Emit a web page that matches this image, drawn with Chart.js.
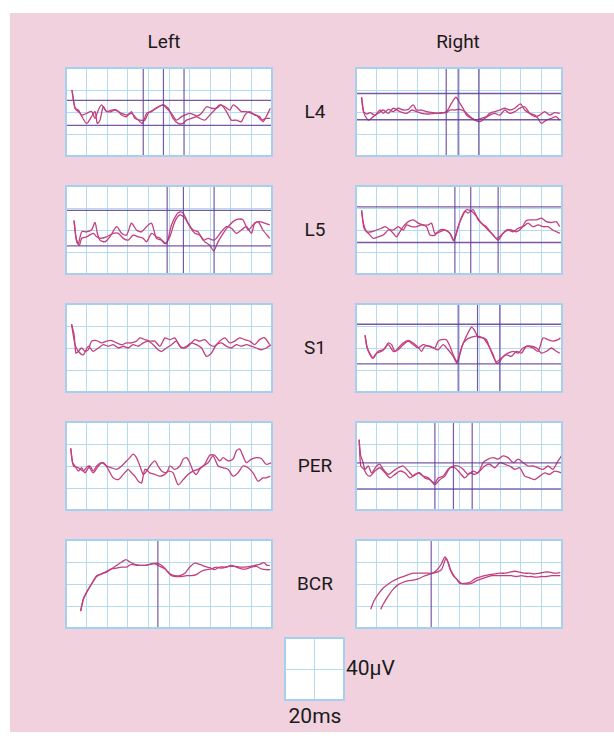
<!DOCTYPE html>
<html>
<head>
<meta charset="utf-8">
<script src="https://cdn.jsdelivr.net/npm/chart.js@4.4.1/dist/chart.umd.min.js"></script>
<style>
  html, body { margin: 0; padding: 0; background: #fff; }
  body { width: 614px; height: 745px; position: relative; overflow: hidden; font-family: Roboto, "Open Sans", sans-serif; color: #1a1a1a; }
  #sheet { position: absolute; left: 10px; top: 13px; width: 604px; height: 719px; background: #f1d1de; }
  .box { position: absolute; }
  .lbl { position: absolute; font-size: 19px; line-height: 22px; text-align: center; }
  .big { font-size: 21px; }
</style>
</head>
<body>
<div id="sheet"></div>
<div id="wrap"></div>
<script>
// column headings and row labels
const colLabels = ['Left', 'Right'];
const rowLabels = ['L4', 'L5', 'S1', 'PER', 'BCR'];
const scaleLabels = ['40\u03bcV', '20ms'];

// traces: [x, y] in grid divisions (x 0..10, y 0..4)
const l4LeftA = [[0.29,3.0],[0.44,2.17],[0.68,1.94],[1.0,1.48],[1.24,1.79],[1.41,2.02],[1.52,1.48],[1.65,1.63],[1.81,2.24],[1.97,2.02],[2.21,2.02],[2.37,2.09],[2.54,2.02],[2.70,1.94],[2.94,1.86],[3.18,1.94],[3.42,1.71],[3.59,1.56],[3.72,1.48],[3.91,1.94],[4.15,2.02],[4.39,2.17],[4.72,2.32],[4.96,2.17],[5.20,1.71],[5.44,1.48],[5.69,1.48],[5.85,1.63],[6.09,1.71],[6.33,1.79],[6.58,1.94],[6.82,2.24],[7.06,2.17],[7.30,2.17],[7.54,2.32],[7.79,2.02],[8.03,1.63],[8.27,1.63],[8.51,1.56],[8.68,1.86],[8.92,2.02],[9.16,1.86],[9.40,1.79],[9.56,1.56],[9.72,1.79],[9.92,2.17]];
const l4LeftB = [[0.29,3.0],[0.44,2.17],[0.60,2.09],[0.76,1.86],[1.0,1.94],[1.24,2.02],[1.41,1.71],[1.57,2.09],[1.73,2.32],[1.97,2.02],[2.21,2.09],[2.46,2.09],[2.70,1.86],[2.94,1.79],[3.18,2.02],[3.34,1.71],[3.59,1.63],[3.83,1.63],[3.99,1.94],[4.23,2.09],[4.47,2.24],[4.72,2.32],[4.88,2.17],[5.12,1.94],[5.36,1.63],[5.61,1.79],[5.77,1.86],[6.01,1.94],[6.25,1.86],[6.49,1.71],[6.74,1.63],[6.98,1.86],[7.22,2.09],[7.46,2.32],[7.71,2.24],[7.95,2.09],[8.11,2.32],[8.27,2.24],[8.51,2.02],[8.76,2.02],[9.00,1.94],[9.24,1.86],[9.48,1.63],[9.72,1.71],[9.92,1.71]];
const l4RightA = [[0.27,2.67],[0.36,2.02],[0.52,1.91],[0.68,1.97],[0.92,1.86],[1.16,2.09],[1.32,1.94],[1.57,2.12],[1.81,2.02],[2.05,2.17],[2.29,2.09],[2.54,2.12],[2.78,2.32],[2.94,2.09],[3.18,2.09],[3.42,2.02],[3.75,1.97],[4.07,1.94],[4.39,2.02],[4.64,2.40],[4.85,2.67],[5.04,2.40],[5.20,2.17],[5.36,1.86],[5.61,1.71],[5.85,1.63],[6.09,1.71],[6.33,1.79],[6.49,1.94],[6.74,2.02],[6.98,2.09],[7.22,2.17],[7.46,2.09],[7.71,2.17],[7.98,2.37],[8.19,2.09],[8.43,1.94],[8.68,1.86],[8.84,1.71],[9.00,1.48],[9.24,1.63],[9.48,1.71],[9.72,1.79],[9.89,1.63]];
const l4RightB = [[0.27,2.67],[0.39,1.94],[0.60,1.63],[0.84,1.79],[1.08,1.94],[1.32,2.09],[1.57,1.94],[1.81,2.17],[2.13,2.02],[2.46,1.94],[2.70,2.09],[2.94,2.02],[3.18,1.94],[3.51,1.91],[3.83,1.94],[4.15,1.97],[4.39,1.97],[4.56,2.09],[4.80,2.09],[5.04,2.12],[5.28,2.02],[5.53,1.79],[5.77,1.63],[6.01,1.56],[6.25,1.71],[6.49,1.86],[6.74,1.94],[6.98,1.86],[7.22,2.09],[7.46,1.94],[7.71,2.02],[7.95,2.17],[8.19,2.24],[8.43,1.94],[8.68,1.79],[8.92,1.86],[9.16,2.02],[9.40,1.86],[9.64,1.97],[9.89,1.94]];
const l5LeftA = [[0.39,2.43],[0.48,1.69],[0.60,1.38],[0.76,1.92],[1.00,1.92],[1.24,2.0],[1.41,2.34],[1.52,1.85],[1.65,1.54],[1.89,1.46],[2.13,1.69],[2.46,2.15],[2.70,1.85],[2.94,1.77],[3.18,2.31],[3.42,2.0],[3.67,1.92],[3.91,2.15],[4.15,2.31],[4.39,1.62],[4.64,1.54],[4.88,1.38],[5.12,2.23],[5.36,2.69],[5.53,2.82],[5.69,2.77],[5.93,2.31],[6.17,2.0],[6.41,1.92],[6.66,1.54],[6.90,1.62],[7.14,1.54],[7.30,1.62],[7.54,1.92],[7.79,2.15],[8.03,2.08],[8.27,1.85],[8.51,2.0],[8.76,2.15],[9.00,1.85],[9.16,2.31],[9.40,2.38],[9.64,2.31],[9.89,2.23]];
const l5LeftB = [[0.39,2.43],[0.52,1.46],[0.65,1.31],[0.76,1.62],[1.00,1.69],[1.32,1.85],[1.49,1.69],[1.65,1.62],[1.97,1.69],[2.29,1.85],[2.54,1.85],[2.78,1.62],[3.02,1.54],[3.26,1.77],[3.51,1.69],[3.75,1.62],[3.91,1.46],[4.15,1.85],[4.39,1.69],[4.56,1.62],[4.80,1.38],[5.04,1.69],[5.28,2.38],[5.53,2.69],[5.77,2.54],[6.01,2.15],[6.25,1.85],[6.49,1.77],[6.74,1.46],[6.98,1.31],[7.17,1.05],[7.38,1.46],[7.63,1.85],[7.87,2.15],[8.11,2.38],[8.35,2.49],[8.59,2.46],[8.84,2.0],[9.08,2.23],[9.32,2.38],[9.56,2.0],[9.89,1.62]];
const l5RightA = [[0.27,2.89],[0.36,2.31],[0.52,1.92],[0.76,1.92],[1.00,2.0],[1.24,2.08],[1.41,2.15],[1.65,2.0],[1.81,1.85],[1.97,1.69],[2.13,1.92],[2.29,2.15],[2.54,2.38],[2.78,2.46],[3.02,2.31],[3.26,2.23],[3.51,2.23],[3.67,2.31],[3.83,1.85],[4.07,1.92],[4.31,2.0],[4.56,1.85],[4.75,1.51],[4.96,2.15],[5.20,2.69],[5.36,2.92],[5.61,2.85],[5.85,2.62],[6.09,2.31],[6.33,2.15],[6.58,1.85],[6.82,1.62],[7.06,1.77],[7.30,2.0],[7.54,2.0],[7.79,1.92],[8.03,2.08],[8.27,2.43],[8.51,2.46],[8.76,2.46],[9.00,2.54],[9.24,2.38],[9.48,2.34],[9.72,2.38],[9.89,2.15]];
const l5RightB = [[0.27,2.89],[0.39,2.08],[0.60,1.85],[0.84,1.62],[1.08,1.69],[1.32,1.77],[1.57,2.0],[1.81,2.0],[2.05,2.15],[2.29,2.0],[2.46,2.23],[2.70,2.15],[2.94,2.15],[3.18,2.23],[3.42,2.15],[3.59,1.77],[3.83,1.77],[4.07,2.0],[4.31,2.0],[4.56,1.85],[4.75,1.54],[5.04,2.38],[5.28,2.85],[5.44,2.77],[5.69,2.92],[5.93,2.46],[6.17,2.23],[6.41,2.0],[6.66,1.77],[6.90,1.54],[7.14,1.85],[7.38,2.0],[7.63,1.92],[7.87,2.08],[8.11,2.15],[8.35,2.31],[8.59,2.15],[8.84,2.23],[9.08,2.15],[9.32,2.15],[9.56,2.0],[9.89,1.85]];
const s1LeftA = [[0.27,3.08],[0.39,2.62],[0.48,1.77],[0.60,1.85],[0.76,2.0],[0.92,1.85],[1.08,1.92],[1.24,2.31],[1.49,2.34],[1.73,2.23],[1.97,2.31],[2.21,2.34],[2.46,2.23],[2.70,2.15],[2.94,2.23],[3.18,2.23],[3.42,2.31],[3.59,2.46],[3.83,2.38],[4.07,2.31],[4.31,2.31],[4.56,2.08],[4.80,2.46],[5.04,2.38],[5.28,2.46],[5.53,2.08],[5.77,2.0],[6.01,2.15],[6.25,2.38],[6.49,2.31],[6.74,2.38],[6.98,2.15],[7.22,2.08],[7.46,2.31],[7.71,2.46],[7.95,2.23],[8.19,2.31],[8.43,2.46],[8.68,2.38],[8.92,2.31],[9.16,2.15],[9.40,2.38],[9.64,2.46],[9.89,2.15]];
const s1LeftB = [[0.27,3.08],[0.44,2.15],[0.60,1.85],[0.84,1.69],[1.08,2.08],[1.32,1.85],[1.57,2.0],[1.81,2.15],[2.05,2.08],[2.29,2.15],[2.54,2.0],[2.78,2.08],[3.02,2.0],[3.26,2.15],[3.51,2.08],[3.75,2.23],[3.99,2.31],[4.23,2.15],[4.47,1.92],[4.64,1.85],[4.88,2.0],[5.12,2.15],[5.36,2.31],[5.61,2.0],[5.85,2.08],[6.09,2.23],[6.33,2.15],[6.58,2.0],[6.82,1.62],[7.06,1.77],[7.30,2.15],[7.54,2.23],[7.79,2.08],[8.03,2.0],[8.27,2.15],[8.51,2.08],[8.76,2.15],[9.00,2.08],[9.24,2.0],[9.48,1.92],[9.72,2.0],[9.97,2.15]];
const s1RightA = [[0.44,2.58],[0.52,2.08],[0.68,1.69],[0.81,1.54],[1.00,1.77],[1.24,1.85],[1.41,2.0],[1.57,2.23],[1.73,2.15],[1.89,1.85],[2.05,2.0],[2.29,2.23],[2.54,2.34],[2.78,2.23],[3.02,2.03],[3.18,1.85],[3.34,2.08],[3.59,2.08],[3.83,2.0],[3.99,2.31],[4.15,2.38],[4.39,2.38],[4.56,2.08],[4.72,1.69],[4.91,1.38],[5.12,2.0],[5.36,2.54],[5.61,2.95],[5.77,2.77],[5.93,2.49],[6.17,2.46],[6.41,2.15],[6.66,1.69],[6.82,1.31],[6.98,1.38],[7.14,1.62],[7.38,1.77],[7.63,1.85],[7.87,1.77],[8.11,2.0],[8.35,2.08],[8.59,2.0],[8.84,1.85],[9.08,2.46],[9.32,2.38],[9.56,2.31],[9.81,2.38],[9.92,2.46]];
const s1RightB = [[0.44,2.58],[0.55,2.0],[0.71,1.69],[0.84,1.54],[1.08,1.85],[1.32,1.92],[1.57,2.15],[1.81,1.85],[2.05,1.92],[2.29,2.15],[2.54,2.31],[2.78,2.15],[3.02,2.0],[3.26,2.15],[3.51,2.08],[3.75,2.0],[3.99,1.92],[4.23,2.15],[4.47,1.92],[4.72,1.62],[4.91,1.31],[5.17,2.15],[5.36,2.38],[5.61,2.49],[5.85,2.54],[6.09,2.49],[6.33,2.38],[6.49,2.0],[6.66,1.62],[6.82,1.38],[7.06,1.54],[7.30,1.69],[7.54,1.62],[7.79,1.85],[8.03,1.77],[8.27,2.08],[8.51,2.08],[8.76,2.0],[9.00,1.77],[9.24,1.85],[9.48,2.0],[9.72,1.85],[9.89,1.77]];
const perLeftA = [[0.23,2.80],[0.32,2.15],[0.44,2.0],[0.60,1.77],[0.76,1.92],[0.92,1.69],[1.16,2.0],[1.32,1.77],[1.49,2.0],[1.73,2.15],[1.97,2.0],[2.21,1.92],[2.46,1.85],[2.70,2.0],[2.94,2.23],[3.10,2.38],[3.26,2.54],[3.42,2.38],[3.59,2.0],[3.75,1.62],[3.91,1.77],[4.07,2.0],[4.31,2.23],[4.47,2.0],[4.64,1.77],[4.88,1.69],[5.04,2.0],[5.28,1.85],[5.53,2.0],[5.69,2.31],[5.85,2.38],[6.01,2.15],[6.17,1.77],[6.33,1.62],[6.49,1.85],[6.74,2.08],[6.98,2.49],[7.22,2.49],[7.46,2.23],[7.63,2.38],[7.87,2.23],[8.11,2.31],[8.27,2.69],[8.43,2.77],[8.59,2.46],[8.76,2.15],[9.00,2.31],[9.24,2.38],[9.48,2.34],[9.72,2.08],[9.97,2.15]];
const perLeftB = [[0.23,2.80],[0.36,2.0],[0.60,1.92],[0.84,1.77],[1.08,2.0],[1.32,1.69],[1.57,2.0],[1.81,2.15],[2.05,1.85],[2.29,1.46],[2.54,1.38],[2.78,1.62],[3.02,1.85],[3.18,1.69],[3.34,1.54],[3.51,1.31],[3.67,1.23],[3.83,1.85],[4.07,1.69],[4.31,1.62],[4.56,1.54],[4.80,1.62],[4.96,1.77],[5.20,1.69],[5.44,1.15],[5.69,1.38],[5.93,1.62],[6.17,1.77],[6.41,1.85],[6.66,2.0],[6.90,2.15],[7.14,2.46],[7.38,2.0],[7.63,1.92],[7.87,1.85],[8.11,1.54],[8.35,1.69],[8.59,2.0],[8.84,1.92],[9.08,1.69],[9.32,1.31],[9.56,1.46],[9.72,1.46],[9.92,1.54]];
const perRightA = [[0.15,3.2],[0.23,2.46],[0.32,2.23],[0.44,1.85],[0.60,2.0],[0.76,1.69],[1.00,2.0],[1.16,2.08],[1.32,1.85],[1.57,1.62],[1.81,1.77],[2.05,1.92],[2.29,2.0],[2.54,1.77],[2.78,1.54],[3.02,1.69],[3.26,1.54],[3.51,1.46],[3.67,1.31],[3.83,1.23],[3.99,1.46],[4.23,1.54],[4.47,1.85],[4.72,2.0],[4.96,2.0],[5.20,1.85],[5.44,1.62],[5.69,1.77],[5.93,1.69],[6.17,2.15],[6.41,2.31],[6.66,2.38],[6.90,2.31],[7.14,2.46],[7.38,2.38],[7.63,2.15],[7.87,2.31],[8.11,2.15],[8.35,2.0],[8.59,2.0],[8.84,1.92],[9.08,1.85],[9.32,2.0],[9.56,1.85],[9.76,2.15],[9.97,2.46]];
const perRightB = [[0.15,3.2],[0.23,2.0],[0.39,1.85],[0.52,1.62],[0.68,1.54],[0.92,1.77],[1.16,1.92],[1.41,1.69],[1.65,1.46],[1.89,1.62],[2.13,1.77],[2.37,1.69],[2.62,1.46],[2.86,1.62],[3.10,1.69],[3.34,1.46],[3.59,1.38],[3.83,1.15],[4.07,1.38],[4.31,1.54],[4.56,1.92],[4.80,1.92],[5.04,1.69],[5.28,1.46],[5.53,1.69],[5.77,1.62],[6.01,1.77],[6.25,2.0],[6.49,2.08],[6.74,1.92],[6.98,2.15],[7.22,2.08],[7.46,2.0],[7.71,1.85],[7.95,1.92],[8.19,1.54],[8.43,1.46],[8.68,1.38],[8.92,1.54],[9.16,1.69],[9.40,1.62],[9.64,1.77],[9.97,1.69]];
const bcrLeftA = [[0.71,0.77],[0.84,1.31],[1.00,1.62],[1.24,2.0],[1.49,2.34],[1.73,2.46],[1.97,2.58],[2.21,2.69],[2.46,2.85],[2.70,3.0],[2.91,3.11],[3.10,3.0],[3.34,2.89],[3.59,2.85],[3.83,2.85],[4.07,2.89],[4.31,2.92],[4.56,2.80],[4.80,2.69],[5.04,2.46],[5.28,2.38],[5.53,2.38],[5.77,2.49],[6.01,2.77],[6.25,2.95],[6.49,2.89],[6.74,2.80],[6.98,2.74],[7.22,2.65],[7.46,2.77],[7.71,2.77],[7.95,2.80],[8.19,2.80],[8.43,2.77],[8.68,2.77],[8.92,2.80],[9.16,2.85],[9.40,2.89],[9.60,2.97],[9.76,2.85],[9.89,2.85]];
const bcrLeftB = [[0.71,0.77],[0.84,1.31],[1.00,1.62],[1.24,2.0],[1.49,2.38],[1.73,2.46],[1.97,2.54],[2.21,2.69],[2.46,2.72],[2.70,2.77],[2.94,2.77],[3.18,2.89],[3.42,2.85],[3.67,2.85],[3.91,2.85],[4.15,2.92],[4.39,2.95],[4.64,2.85],[4.88,2.62],[5.12,2.38],[5.36,2.34],[5.61,2.34],[5.85,2.38],[6.09,2.38],[6.33,2.43],[6.58,2.58],[6.82,2.65],[7.06,2.69],[7.30,2.77],[7.54,2.72],[7.79,2.77],[8.03,2.85],[8.27,2.77],[8.51,2.69],[8.76,2.69],[9.00,2.77],[9.24,2.80],[9.48,2.69],[9.72,2.65],[9.92,2.65]];
const bcrRightA = [[0.71,0.85],[0.87,1.23],[1.08,1.54],[1.32,1.82],[1.57,2.0],[1.81,2.15],[2.05,2.26],[2.29,2.34],[2.54,2.43],[2.78,2.49],[3.02,2.49],[3.26,2.49],[3.51,2.49],[3.72,2.49],[3.94,2.65],[4.15,2.92],[4.31,3.23],[4.43,3.08],[4.56,2.69],[4.72,2.38],[4.88,2.23],[5.04,2.03],[5.28,2.03],[5.53,2.08],[5.77,2.23],[6.01,2.31],[6.25,2.38],[6.49,2.43],[6.74,2.46],[6.98,2.49],[7.22,2.49],[7.46,2.54],[7.71,2.58],[7.95,2.54],[8.19,2.49],[8.43,2.49],[8.68,2.46],[8.92,2.49],[9.16,2.54],[9.40,2.54],[9.64,2.49],[9.92,2.52]];
const bcrRightB = [[1.20,0.85],[1.32,1.08],[1.57,1.46],[1.81,1.77],[2.05,1.97],[2.29,2.08],[2.54,2.15],[2.78,2.18],[3.02,2.23],[3.26,2.34],[3.51,2.43],[3.72,2.49],[3.94,2.54],[4.15,2.65],[4.36,3.15],[4.47,3.0],[4.60,2.62],[4.80,2.31],[4.96,2.15],[5.12,2.03],[5.36,2.0],[5.61,2.03],[5.85,2.15],[6.09,2.23],[6.33,2.31],[6.58,2.38],[6.82,2.38],[7.06,2.38],[7.30,2.38],[7.54,2.38],[7.79,2.34],[8.03,2.38],[8.27,2.34],[8.51,2.34],[8.76,2.31],[9.00,2.34],[9.24,2.34],[9.48,2.38],[9.72,2.38],[9.92,2.38]];

// cursor lines (horizontal levels / vertical times, in divisions)
const l4LeftH = [2.53, 1.39],  l4LeftV = [3.75, 4.73, 5.73];
const l4RightH = [2.84, 1.65], l4RightV = [4.38, 4.96, 5.96];
const l5LeftH = [2.89, 1.28],  l5LeftV = [4.91, 5.70, 7.19];
const l5RightH = [3.05, 1.43], l5RightV = [4.80, 5.57, 6.90];
const s1LeftH = [],            s1LeftV = [];
const s1RightH = [3.08, 1.28], s1RightV = [4.96, 5.90, 6.98];
const perLeftH = [],           perLeftV = [];
const perRightH = [2.14, 0.95], perRightV = [3.83, 4.73, 5.64];
const bcrLeftH = [],           bcrLeftV = [4.46];
const bcrRightH = [],          bcrRightV = [3.65];

const panels = [
    [l4LeftA, l4LeftB, l4LeftH, l4LeftV], [l4RightA, l4RightB, l4RightH, l4RightV],
    [l5LeftA, l5LeftB, l5LeftH, l5LeftV], [l5RightA, l5RightB, l5RightH, l5RightV],
    [s1LeftA, s1LeftB, s1LeftH, s1LeftV], [s1RightA, s1RightB, s1RightH, s1RightV],
    [perLeftA, perLeftB, perLeftH, perLeftV], [perRightA, perRightB, perRightH, perRightV],
    [bcrLeftA, bcrLeftB, bcrLeftH, bcrLeftV], [bcrRightA, bcrRightB, bcrRightH, bcrRightV]
];

const GRID = '#b5dbf3';
const FRAME = '#a6d0ef';
const TRACE = '#c2407f';
const CURSOR = 'rgba(98, 60, 150, 0.85)';

const wrap = document.getElementById('wrap');

function addBox(left, top, w, h) {
    const div = document.createElement('div');
    div.className = 'box';
    div.style.left = left + 'px';
    div.style.top = top + 'px';
    div.style.width = w + 'px';
    div.style.height = h + 'px';
    const c = document.createElement('canvas');
    div.appendChild(c);
    wrap.appendChild(div);
    return c;
}

function addLabel(text, x, y, align, cls) {
    const d = document.createElement('div');
    d.className = 'lbl' + (cls ? ' ' + cls : '');
    d.textContent = text;
    d.style.top = (y - 11) + 'px';
    if (align === 'left') {
        d.style.left = x + 'px';
        d.style.textAlign = 'left';
    } else {
        d.style.left = (x - 40) + 'px';
        d.style.width = '80px';
    }
    wrap.appendChild(d);
}

const framePlugin = {
    id: 'frame',
    beforeDraw(chart) {
        const { ctx, chartArea: a } = chart;
        ctx.save();
        ctx.fillStyle = '#fff';
        ctx.fillRect(a.left, a.top, a.width, a.height);
        ctx.restore();
    },
    afterDraw(chart) {
        const { ctx, chartArea: a } = chart;
        ctx.save();
        ctx.strokeStyle = FRAME;
        ctx.lineWidth = 2;
        ctx.strokeRect(a.left, a.top, a.width, a.height);
        ctx.restore();
    }
};

function toPts(arr) {
    return arr.map(p => ({ x: p[0], y: p[1] }));
}

function makeChart(canvas, datasets, xMax, yMax) {
    return new Chart(canvas, {
        type: 'line',
        data: { datasets },
        options: {
            animation: false,
            responsive: true,
            maintainAspectRatio: false,
            devicePixelRatio: 1,
            layout: { padding: 1 },
            plugins: { legend: { display: false }, tooltip: { enabled: false } },
            elements: { point: { radius: 0 } },
            scales: {
                x: {
                    type: 'linear', min: 0, max: xMax,
                    ticks: { display: false, stepSize: 1 },
                    grid: { color: GRID, lineWidth: 1, drawTicks: false },
                    border: { display: false }
                },
                y: {
                    type: 'linear', min: 0, max: yMax,
                    ticks: { display: false, stepSize: 1 },
                    grid: { color: GRID, lineWidth: 1, drawTicks: false },
                    border: { display: false }
                }
            }
        },
        plugins: [framePlugin]
    });
}

const colX = [66, 356];
const rowY = [68, 186, 304, 422, 540];
const PW = 206, PH = 88;

panels.forEach((p, i) => {
    const col = i % 2, row = Math.floor(i / 2);
    const [a, b, hs, vs] = p;
    const datasets = [];
    hs.forEach(h => datasets.push({
        data: [{ x: 0, y: h }, { x: 10, y: h }],
        borderColor: CURSOR, borderWidth: 1.4
    }));
    vs.forEach(v => datasets.push({
        data: [{ x: v, y: 0 }, { x: v, y: 4 }],
        borderColor: CURSOR, borderWidth: 1.2
    }));
    [a, b].forEach(t => datasets.push({
        data: toPts(t),
        borderColor: TRACE, borderWidth: 1.3, tension: 0.25
    }));
    const c = addBox(colX[col] - 1, rowY[row] - 1, PW + 2, PH + 2);
    makeChart(c, datasets, 10, 4);
});

// calibration box (2 x 2 divisions)
makeChart(addBox(284, 637, 61, 64), [], 2, 2);

addLabel(colLabels[0], 164, 42);
addLabel(colLabels[1], 458, 42);
rowLabels.forEach((t, r) => addLabel(t, 315, rowY[r] + PH / 2));
addLabel(scaleLabels[0], 346, 668, 'left', 'big');
addLabel(scaleLabels[1], 315, 716, null, 'big');
</script>
</body>
</html>
